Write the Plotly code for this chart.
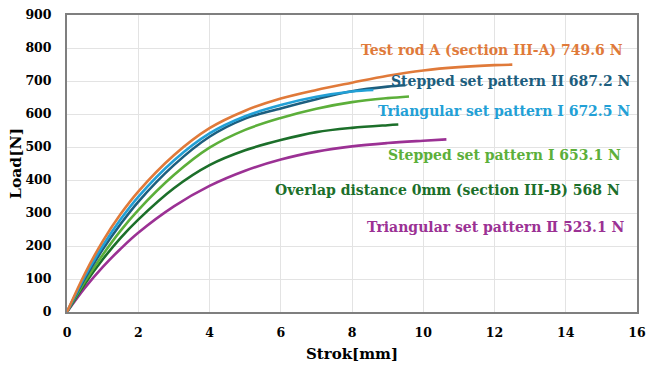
import plotly.graph_objects as go

# Load–stroke curves (stroke in mm, load in N)
x_test_rod_a = [0, 0.5, 1, 1.5, 2, 3, 4, 5, 6, 7, 8, 9, 10, 11, 12, 12.5]
y_test_rod_a = [0, 116, 214, 296, 365, 475, 557, 610, 647, 673, 695, 716, 732, 742, 748, 749.6]

x_stepped_2 = [0, 0.5, 1, 1.5, 2, 3, 4, 5, 6, 7, 8, 9, 9.5]
y_stepped_2 = [0, 101, 189, 266, 334, 445, 531, 586, 617, 645, 669, 683, 687.2]

x_triangular_1 = [0, 0.5, 1, 1.5, 2, 3, 4, 5, 6, 7, 8, 8.6]
y_triangular_1 = [0, 108, 200, 280, 349, 459, 541, 593, 627, 652, 668, 672.5]

x_stepped_1 = [0, 0.5, 1, 1.5, 2, 3, 4, 5, 6, 7, 8, 9, 9.6]
y_stepped_1 = [0, 92, 173, 246, 309, 415, 498, 552, 588, 616, 636, 648, 653.1]

x_overlap_0 = [0, 0.5, 1, 1.5, 2, 3, 4, 5, 6, 7, 8, 9, 9.3]
y_overlap_0 = [0, 85, 159, 224, 280, 375, 445, 490, 521, 545, 558, 566, 568]

x_triangular_2 = [0, 0.5, 1, 1.5, 2, 3, 4, 5, 6, 7, 8, 9, 10, 10.65]
y_triangular_2 = [0, 73, 136, 191, 240, 320, 382, 428, 462, 486, 502, 512, 519, 523.1]

series = [
    ("Triangular set pattern Ⅱ 523.1 N", x_triangular_2, y_triangular_2, "#9B3194", 15.73, 258),
    ("Overlap distance 0mm (section III-B) 568 N", x_overlap_0, y_overlap_0, "#1C6F2A", 15.59, 370),
    ("Stepped set pattern I 653.1 N", x_stepped_1, y_stepped_1, "#5CAF3A", 15.62, 476),
    ("Stepped set pattern II 687.2 N", x_stepped_2, y_stepped_2, "#1D5E7E", 15.9, 701),
    ("Triangular set pattern I 672.5 N", x_triangular_1, y_triangular_1, "#22A0D6", 15.87, 609),
    ("Test rod A (section III-A) 749.6 N", x_test_rod_a, y_test_rod_a, "#E07A3A", 15.67, 794),
]

fig = go.Figure()
serif = "DejaVu Serif"

for name, xs, ys, color, lx, ly in series:
    fig.add_trace(go.Scatter(
        x=xs, y=ys, mode="lines", name=name,
        line=dict(color=color, width=2.6, shape="spline", smoothing=1.0),
        showlegend=False,
    ))
    fig.add_annotation(
        x=lx, y=ly, xref="x", yref="y", text=name,
        showarrow=False, xanchor="right", yanchor="middle",
        font=dict(family=serif, size=14, color=color, weight="bold"),
    )

axis_common = dict(
    showgrid=True, gridcolor="#E3E3E3", gridwidth=1,
    showline=True, linecolor="#7F7F7F", linewidth=2, mirror=True,
    ticks="", zeroline=False, automargin=False,
    tickfont=dict(family=serif, size=12.5, color="#000000", weight="bold"),
)

fig.update_xaxes(
    range=[0, 16], tickvals=list(range(0, 17, 2)), ticklabelstandoff=8,
    title=dict(text="Strok[mm]", font=dict(family=serif, size=15, color="#000", weight="bold"), standoff=9),
    **axis_common,
)
fig.update_yaxes(
    range=[0, 900], tickvals=list(range(0, 901, 100)), ticklabelstandoff=11,
    title=dict(text="Load[N]", font=dict(family=serif, size=15.5, color="#000", weight="bold"), standoff=0),
    **axis_common,
)

fig.update_layout(
    width=646, height=365,
    margin=dict(l=67, r=9, t=15, b=53),
    paper_bgcolor="white", plot_bgcolor="white",
)

fig.write_html("out.html")
